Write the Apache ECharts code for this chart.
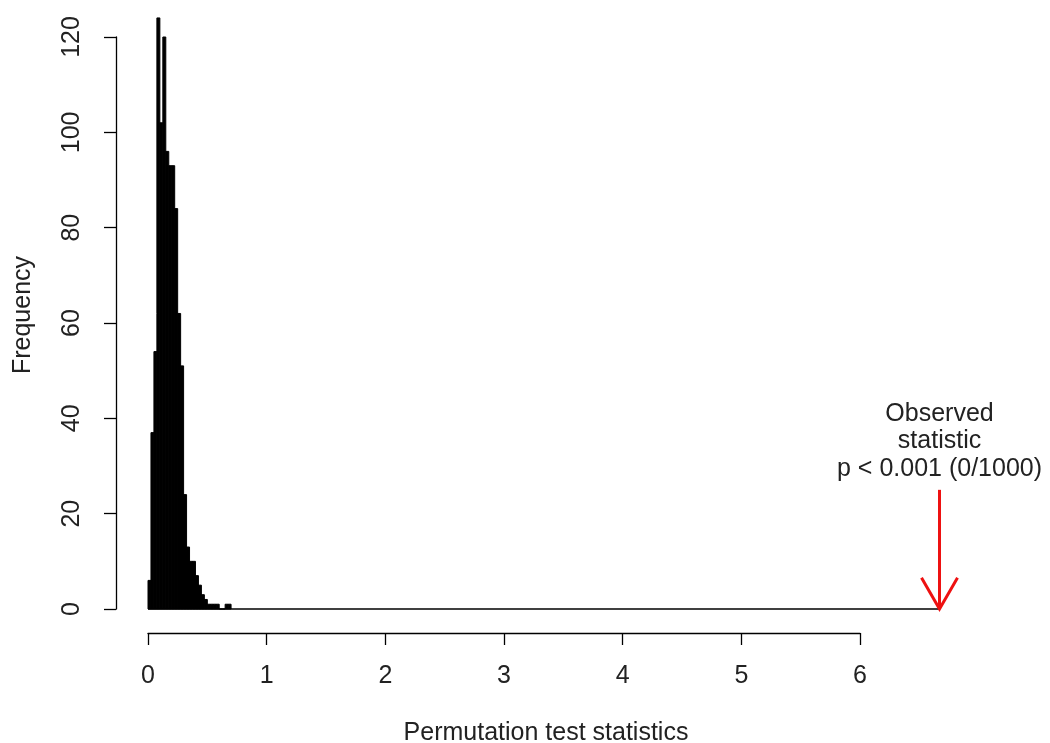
<!DOCTYPE html>
<html>
<head>
<meta charset="utf-8">
<script src="https://cdn.jsdelivr.net/npm/echarts@6/dist/echarts.min.js"></script>
<style>
html,body{margin:0;padding:0;background:#fff;}
#chart{width:1050px;height:743px;}
</style>
</head>
<body>
<div id="chart"></div>
<script>
// Histogram bin edges (left edges; width 0.025)
const binLeft = [0, 0.025, 0.05, 0.075, 0.1, 0.125, 0.15, 0.175, 0.2, 0.225,
                 0.25, 0.275, 0.3, 0.325, 0.35, 0.375, 0.4, 0.425, 0.45, 0.475,
                 0.5, 0.525, 0.55, 0.575, 0.6, 0.625, 0.65, 0.675];
const binWidth = 0.025;
const counts = [6, 37, 54, 124, 102, 120, 96, 93, 93, 84,
                62, 51, 24, 13, 10, 10, 7, 5, 3, 2,
                1, 1, 1, 1, 0, 0, 1, 1];
const observed = 6.67;
const arrowTop = 25;
const xTicks = [0, 1, 2, 3, 4, 5, 6];
const yTicks = [0, 20, 40, 60, 80, 100, 120];
const annotation = 'Observed\nstatistic\np < 0.001 (0/1000)';

const FONT = 'Liberation Sans, Arial, sans-serif';
const TXT = '#222';
const FS = 25;

const histData = binLeft.map((b, i) => [b, b + binWidth, counts[i]]);

const chart = echarts.init(document.getElementById('chart'));
chart.setOption({
  backgroundColor: '#fff',
  animation: false,
  grid: { left: 148, right: 190, top: 37, bottom: 134, containLabel: false, outerBoundsMode: 'none' },
  xAxis: {
    type: 'value', min: xTicks[0], max: xTicks[xTicks.length - 1], interval: 1,
    offset: 24,
    splitLine: { show: false },
    axisLine: { onZero: false, lineStyle: { color: '#000', width: 1.3 } },
    axisTick: { length: 12, lineStyle: { color: '#000', width: 1.3 } },
    axisLabel: { fontSize: FS, color: TXT, fontFamily: FONT, margin: 31 },
    name: 'Permutation test statistics', nameLocation: 'middle', nameGap: 88,
    nameTextStyle: { fontSize: FS, color: TXT, fontFamily: FONT, padding: [0, 0, 0, 84] }
  },
  yAxis: {
    type: 'value', min: yTicks[0], max: yTicks[yTicks.length - 1], interval: 20,
    offset: 32,
    splitLine: { show: false },
    axisLine: { show: true, onZero: false, lineStyle: { color: '#000', width: 1.3 } },
    axisTick: { show: true, length: 12, lineStyle: { color: '#000', width: 1.3 } },
    axisLabel: { fontSize: FS, color: TXT, fontFamily: FONT, rotate: 90, margin: 31 },
    name: 'Frequency', nameLocation: 'middle', nameGap: 80, nameRotate: 90,
    nameTextStyle: { fontSize: FS, color: TXT, fontFamily: FONT, padding: [0, 0, 0, 16] }
  },
  series: [
    {
      type: 'custom',
      clip: false,
      data: [[0, observed]],
      renderItem: function (params, api) {
        const a = api.coord([api.value(0), 0]);
        const b = api.coord([api.value(1), 0]);
        return { type: 'line', shape: { x1: a[0], y1: a[1], x2: b[0], y2: b[1] },
                 style: { stroke: '#000', lineWidth: 1.5 } };
      }
    },
    {
      type: 'custom',
      clip: false,
      data: histData,
      renderItem: function (params, api) {
        const p0 = api.coord([api.value(0), api.value(2)]);
        const p1 = api.coord([api.value(1), 0]);
        return {
          type: 'rect',
          shape: { x: p0[0], y: p0[1], width: p1[0] - p0[0], height: p1[1] - p0[1] },
          style: { fill: '#000', stroke: '#000', lineWidth: 1 }
        };
      }
    },
    {
      type: 'custom',
      clip: false,
      data: [[observed, arrowTop]],
      renderItem: function (params, api) {
        const top = api.coord([api.value(0), api.value(1)]);
        const tip = api.coord([api.value(0), 0]);
        const L = 36, ang = Math.PI / 6;
        const dx = L * Math.sin(ang), dy = L * Math.cos(ang);
        return {
          type: 'group',
          children: [
            { type: 'line', shape: { x1: top[0], y1: top[1], x2: tip[0], y2: tip[1] },
              style: { stroke: '#ee1111', lineWidth: 3 } },
            { type: 'polyline', shape: { points: [[tip[0] - dx, tip[1] - dy], [tip[0], tip[1]], [tip[0] + dx, tip[1] - dy]] },
              style: { stroke: '#ee1111', lineWidth: 3, fill: null } },
            { type: 'text', x: top[0], y: top[1] - 7,
              style: { text: annotation, align: 'center', verticalAlign: 'bottom',
                       fontSize: FS, lineHeight: 27.5, fill: TXT, fontFamily: FONT } }
          ]
        };
      }
    }
  ]
});
</script>
</body>
</html>
